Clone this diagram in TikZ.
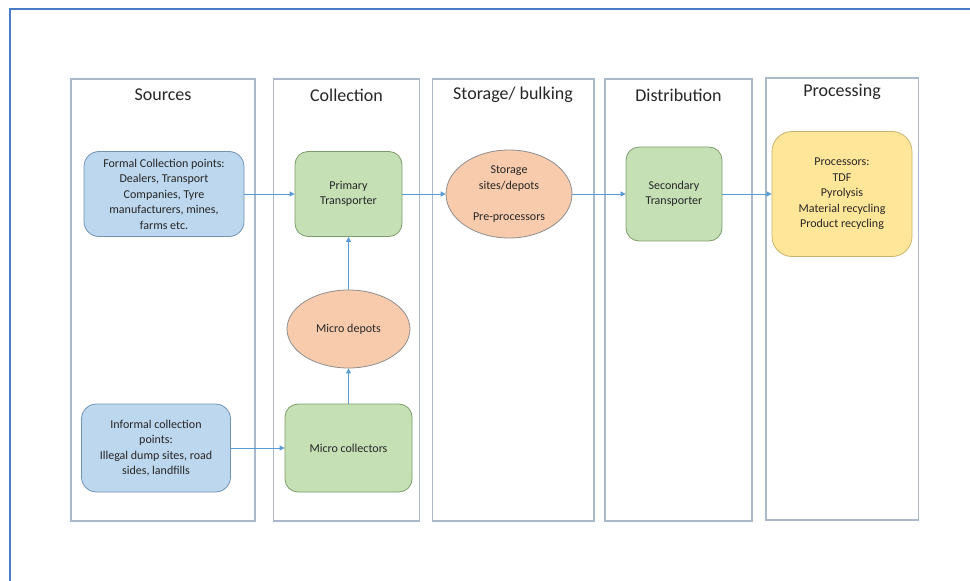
\documentclass[tikz,border=0pt]{standalone}
\usepackage{fontspec}
\setmainfont{Carlito}
\usetikzlibrary{arrows.meta,shapes.geometric}
\definecolor{frameblue}{HTML}{4A7CC7}
\definecolor{lanegray}{HTML}{A9B8CB}
\definecolor{flowblue}{HTML}{5B9BD5}
\definecolor{inkgray}{HTML}{262626}
\definecolor{srcfill}{HTML}{BDD7EE}
\definecolor{srcline}{HTML}{6F93B5}
\definecolor{grnfill}{HTML}{C5E0B4}
\definecolor{grnline}{HTML}{7E9D6C}
\definecolor{orgfill}{HTML}{F8CBAD}
\definecolor{orgline}{HTML}{8E8E8E}
\definecolor{ylwfill}{HTML}{FFE699}
\definecolor{ylwline}{HTML}{C8B472}
\begin{document}
\begin{tikzpicture}[x=1pt,y=-1pt,
    lane/.style={draw=lanegray, line width=1.2pt},
    title/.style={text=inkgray, font=\fontsize{18}{22}\selectfont},
    body/.style={text=inkgray, align=center, inner sep=0pt, line width=0.8pt,
      font=\fontsize{12}{15.5}\selectfont},
    srcbox/.style={body, draw=srcline, fill=srcfill, rounded corners=15pt},
    grnbox/.style={body, draw=grnline, fill=grnfill, rounded corners=13pt},
    orgell/.style={body, ellipse, draw=orgline, fill=orgfill},
    ylwbox/.style={body, draw=ylwline, fill=ylwfill, rounded corners=20pt},
    flow/.style={draw=flowblue, line width=0.9pt, -{Triangle[length=5pt,width=5pt]}}]
  \useasboundingbox (0,0) rectangle (970,581);
  \draw[frameblue, line width=1.6pt] (10,581) -- (10,9) -- (970,9);
  % swimlanes
  \draw[lane] (71,79) rectangle (255,521);
  \draw[lane] (273.5,79) rectangle (419.5,521);
  \draw[lane] (432.5,79) rectangle (594,521);
  \draw[lane] (605,79) rectangle (752,521);
  \draw[lane] (766,78) rectangle (918.5,520);
  \draw
    (163,95) node[title] (tsrc) {Sources}
    (346.5,95) node[title] (tcol) {Collection}
    (513,95) node[title] (tsto) {Storage/ bulking}
    (678.5,95) node[title] (tdis) {Distribution}
    (842,92) node[title] (tpro) {Processing};
  \draw
    (164,194) node[srcbox, minimum width=160pt, minimum height=85pt] (formal)
      {Formal Collection points:\\Dealers, Transport\\Companies, Tyre\\manufacturers, mines,\\farms etc.}
    (348.5,194) node[grnbox, minimum width=107pt, minimum height=85pt] (primary)
      {Primary\\Transporter}
    (509,194) node[orgell, minimum width=126pt, minimum height=88pt] (storage)
      {Storage\\sites/depots\\[15.5pt]Pre-processors}
    (674,194) node[grnbox, minimum width=96pt, minimum height=94pt] (secondary)
      {Secondary\\Transporter}
    (842,194) node[ylwbox, minimum width=140pt, minimum height=125pt] (processors)
      {Processors:\\TDF\\Pyrolysis\\Material recycling\\Product recycling}
    (348.5,329) node[orgell, minimum width=123pt, minimum height=78pt] (depots)
      {Micro depots}
    (156,448) node[srcbox, minimum width=149pt, minimum height=88pt] (informal)
      {Informal collection\\points:\\Illegal dump sites, road\\sides, landfills}
    (348.5,448) node[grnbox, minimum width=127pt, minimum height=88pt] (collectors)
      {Micro collectors};
  \begin{scope}[flow]
    \draw (formal) to (primary);
    \draw (primary) to (storage);
    \draw (storage) to (secondary);
    \draw (secondary) to (processors);
    \draw (informal) to (collectors);
    \draw (collectors) to (depots);
    \draw (depots) to (primary);
  \end{scope}
\end{tikzpicture}
\end{document}
